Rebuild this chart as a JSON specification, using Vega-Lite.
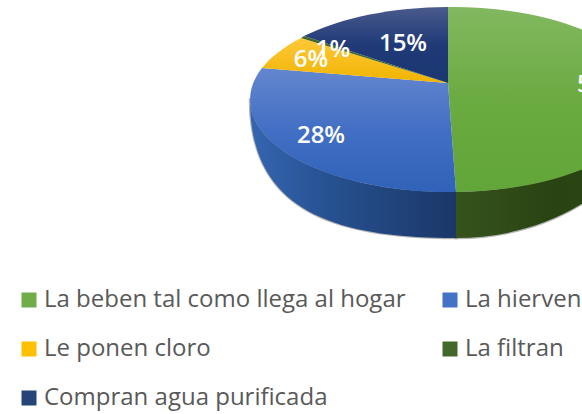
{"$schema":"https://vega.github.io/schema/vega-lite/v6.json","width":582,"height":414,"padding":0,"autosize":{"type":"none"},"background":"white","config":{"view":{"stroke":null}},
"data":{"values":[{"cat":"La beben tal como llega al hogar","pct":0.50},{"cat":"La hierven","pct":0.28},{"cat":"Le ponen cloro","pct":0.06},{"cat":"La filtran","pct":0.01},{"cat":"Compran agua purificada","pct":0.15}]},
"layer":[
{"mark":{"type":"point","filled":true,"opacity":1,"size":0},
"encoding":{"fill":{"field":"cat","type":"nominal","scale":{"domain":["La beben tal como llega al hogar","La hierven","Le ponen cloro","La filtran","Compran agua purificada"],"range":["#70ad47","#4472c4","#ffc000","#43682b","#264478"]},
"legend":{"orient":"none","legendX":17,"legendY":288,"direction":"horizontal","columns":2,"title":null,"symbolType":"square","symbolSize":225,"symbolStrokeWidth":0,"labelFont":"Open Sans","labelFontSize":24,"labelColor":"#595959","labelLimit":500,"labelOffset":3,"rowPadding":25,"columnPadding":32}}}},
{"transform":[{"filter":"datum.cat==='La hierven'"}],"mark":{"type":"point","filled":true,"opacity":0.55,"size":4,"fill":"#555555","stroke":"#777777","strokeWidth":2.5,"shape":"M-41,-107 C-41,2 40,31 165,31 L165,-15 Z"}},
{"transform":[{"filter":"datum.cat==='La beben tal como llega al hogar'"}],"mark":{"type":"point","filled":true,"opacity":0.55,"size":4,"fill":"#555555","stroke":"#777777","strokeWidth":2.5,"shape":"M165,31 C230,31 300,8 357,-61 L357,-107 L165,-15 Z"}},
{"transform":[{"filter":"datum.cat==='La hierven'"}],"mark":{"type":"point","filled":true,"opacity":1,"size":4,"fill":{"gradient":"linear","x1":0,"y1":0,"x2":1,"y2":0,"stops":[{"offset":0,"color":"#3566b2"},{"offset":0.4,"color":"#26508f"},{"offset":1,"color":"#1b3768"}]},"shape":"M-41,-107 C-41,2 40,31 165,31 L165,-15 A199,92.5 0 0 1 -41,-107 Z"}},
{"transform":[{"filter":"datum.cat==='La beben tal como llega al hogar'"}],"mark":{"type":"point","filled":true,"opacity":1,"size":4,"fill":{"gradient":"linear","x1":0,"y1":0,"x2":1,"y2":0,"stops":[{"offset":0,"color":"#36531c"},{"offset":0.5,"color":"#294312"},{"offset":1,"color":"#2c4616"}]},"shape":"M165,31 C230,31 300,8 357,-61 L357,-107 A199,92.5 0 0 1 165,-15 Z"}},
{"transform":[{"filter":"datum.cat==='La beben tal como llega al hogar'"}],"mark":{"type":"point","filled":true,"opacity":1,"size":4,"shape":"M157,-124 L157,-200 A199,92.5 0 0 1 165,-15 Z","fill":{"gradient":"linear","x1":0,"y1":0,"x2":0,"y2":1,"stops":[{"offset":0,"color":"#82b860"},{"offset":0.5,"color":"#6bab41"},{"offset":1,"color":"#62a539"}]}}},
{"transform":[{"filter":"datum.cat==='La hierven'"}],"mark":{"type":"point","filled":true,"opacity":1,"size":4,"shape":"M157,-124 L165,-15 A199,92.5 0 0 1 -29,-139 Z","fill":{"gradient":"linear","x1":0,"y1":0,"x2":0,"y2":1,"stops":[{"offset":0,"color":"#6486cf"},{"offset":0.5,"color":"#426fc4"},{"offset":1,"color":"#2f62b8"}]}}},
{"transform":[{"filter":"datum.cat==='Le ponen cloro'"}],"mark":{"type":"point","filled":true,"opacity":1,"size":4,"shape":"M157,-124 L-29,-139 A199,92.5 0 0 1 10,-169 Z","fill":{"gradient":"linear","x1":0,"y1":0,"x2":0,"y2":1,"stops":[{"offset":0,"color":"#ffc83a"},{"offset":1,"color":"#efb400"}]}}},
{"transform":[{"filter":"datum.cat==='La filtran'"}],"mark":{"type":"point","filled":true,"opacity":1,"size":4,"shape":"M157,-124 L10,-169 A199,92.5 0 0 1 13,-171 Z","fill":"#43682b"}},
{"transform":[{"filter":"datum.cat==='Compran agua purificada'"}],"mark":{"type":"point","filled":true,"opacity":1,"size":4,"shape":"M157,-124 L13,-171 A199,92.5 0 0 1 157,-200 Z","fill":{"gradient":"linear","x1":0,"y1":0,"x2":0,"y2":1,"stops":[{"offset":0,"color":"#4a5a8c"},{"offset":0.5,"color":"#1f3a78"},{"offset":1,"color":"#1b3770"}]}}},
{"transform":[{"filter":"datum.cat==='La beben tal como llega al hogar'"}],"mark":{"type":"text","font":"Open Sans","fontWeight":600,"fontSize":24,"color":"white","dx":310,"dy":-122},"encoding":{"text":{"field":"pct","format":".0%"}}},
{"transform":[{"filter":"datum.cat==='La hierven'"}],"mark":{"type":"text","font":"Open Sans","fontWeight":600,"fontSize":24,"color":"white","dx":30,"dy":-71},"encoding":{"text":{"field":"pct","format":".0%"}}},
{"transform":[{"filter":"datum.cat==='Le ponen cloro'"}],"mark":{"type":"text","font":"Open Sans","fontWeight":600,"fontSize":24,"color":"white","dx":20,"dy":-147},"encoding":{"text":{"field":"pct","format":".0%"}}},
{"transform":[{"filter":"datum.cat==='La filtran'"}],"mark":{"type":"text","font":"Open Sans","fontWeight":600,"fontSize":24,"color":"white","dx":42,"dy":-157},"encoding":{"text":{"field":"pct","format":".0%"}}},
{"transform":[{"filter":"datum.cat==='Compran agua purificada'"}],"mark":{"type":"text","font":"Open Sans","fontWeight":600,"fontSize":24,"color":"white","dx":112,"dy":-163},"encoding":{"text":{"field":"pct","format":".0%"}}}
]}
